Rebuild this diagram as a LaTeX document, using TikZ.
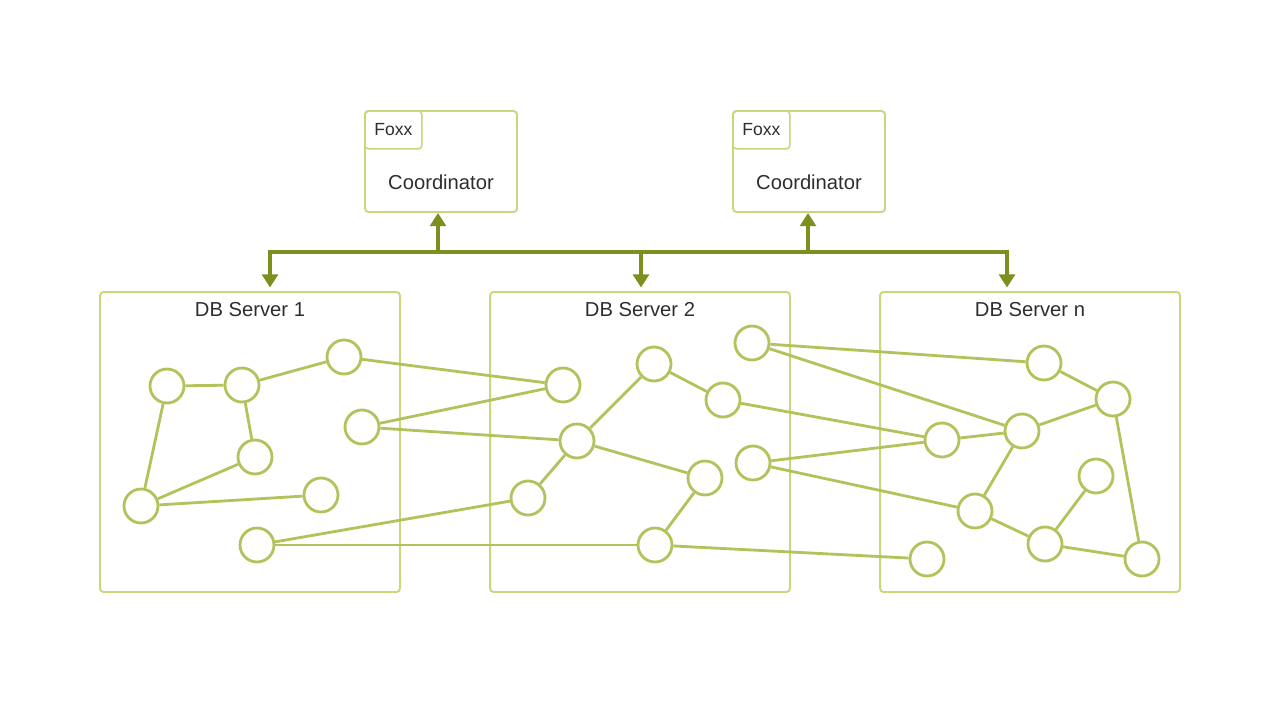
\documentclass[tikz,border=0pt]{standalone}
\usepackage{fontspec}
\setmainfont{Liberation Sans}
\usetikzlibrary{arrows.meta}
\definecolor{boxcol}{HTML}{C9D77A}
\definecolor{vtxcol}{HTML}{B5C25C}
\definecolor{buscol}{HTML}{7E8E1F}
\definecolor{txtcol}{HTML}{2E2E2E}
\begin{document}
\begin{tikzpicture}[x=0.02cm, y=-0.02cm]
      \tikzset{vertex/.style={draw=vtxcol, circle, line width=1.6pt, inner sep=0pt, minimum size=.68cm},
               server/.style={draw=boxcol, rounded corners=2pt, line width=1.1pt, inner sep=0pt, minimum width=6cm, minimum height=6cm},
               coordbox/.style={draw=boxcol, rounded corners=2pt, line width=1.1pt, inner sep=0pt, minimum width=3.04cm, minimum height=2.02cm},
               tab/.style={draw=boxcol, rounded corners=2pt, line width=.9pt, inner sep=0pt, minimum width=1.14cm, minimum height=.76cm, anchor=north west, text=txtcol, font=\fontsize{10}{12}\selectfont},
               title/.style={text=txtcol, font=\fontsize{11.5}{13}\selectfont},
               bus/.style={draw=buscol, line width=2pt},
               link/.style={draw=vtxcol, line width=1.6pt}}
      \fill[white] (0,0) rectangle (1280,720);
      \useasboundingbox (0,0) rectangle (1280,720);
%% Coordinators
      	\node[coordbox] (c1) at (441,161.5) {};
      	\node[tab] (f1) at (c1.north west) {Foxx};
      	\node[title] (l1) at (441,182) {Coordinator};
      	\node[coordbox] (c2) at (809,161.5) {};
      	\node[tab] (f2) at (c2.north west) {Foxx};
      	\node[title] (l2) at (809,182) {Coordinator};
%% Servers
      	\node[server] (s1) at (250,442) {};
      	\node[title] (t1) at (250,310) {DB Server 1};
      	\node[server] (s2) at (640,442) {};
      	\node[title] (t2) at (640,310) {DB Server 2};
      	\node[server] (s3) at (1030,442) {};
      	\node[title] (t3) at (1030,310) {DB Server n};
%Bus
      	\coordinate (d1) at (270,252);
      	\coordinate (d2) at (641,252);
      	\coordinate (d3) at (1007,252);
      	\coordinate (u1) at (438,252);
      	\coordinate (u2) at (808,252);
		\draw[bus, line cap=rect] (d1) -- (d3);
		\draw[bus, -{Triangle[length=7.5pt, width=9pt]}] (u1) -- (u1 |- c1.south);
		\draw[bus, -{Triangle[length=7.5pt, width=9pt]}] (u2) -- (u2 |- c2.south);
		\draw[bus, -{Triangle[length=7.5pt, width=9pt]}, shorten >=2pt] (d1) -- (d1 |- s1.north);
		\draw[bus, -{Triangle[length=7.5pt, width=9pt]}, shorten >=2pt] (d2) -- (d2 |- s2.north);
		\draw[bus, -{Triangle[length=7.5pt, width=9pt]}, shorten >=2pt] (d3) -- (d3 |- s3.north);
%% Vertices
      	\node[vertex] (a) at (167,386) {};
      	\node[vertex] (b) at (242,385) {};
      	\node[vertex] (c) at (344,357) {};
      	\node[vertex] (d) at (362,427) {};
      	\node[vertex] (e) at (255,457) {};
      	\node[vertex] (f) at (141,506) {};
      	\node[vertex] (g) at (321,495) {};
      	\node[vertex] (h) at (257,545) {};
      	\node[vertex] (i) at (563,385) {};
      	\node[vertex] (j) at (654,364) {};
      	\node[vertex] (k) at (723,400) {};
      	\node[vertex] (l) at (577,441) {};
      	\node[vertex] (m) at (705,478) {};
      	\node[vertex] (n) at (528,498) {};
      	\node[vertex] (o) at (655,545) {};
      	\node[vertex] (p) at (752,343) {};
      	\node[vertex] (q) at (753,463) {};
      	\node[vertex] (r) at (1044,363) {};
      	\node[vertex] (s) at (1113,399) {};
      	\node[vertex] (t) at (1022,431) {};
      	\node[vertex] (u) at (942,440) {};
      	\node[vertex] (v) at (1096,476) {};
      	\node[vertex] (w) at (975,511) {};
      	\node[vertex] (x) at (1045,544) {};
      	\node[vertex] (y) at (1142,559) {};
      	\node[vertex] (z) at (927,559) {};
%Edges
		\path[link] (a) edge (b) (b) edge (c) (b) edge (e) (a) edge (f) (f) edge (e) (f) edge (g);
		\path[link] (c) edge (i) (d) edge (i) (d) edge (l) (h) edge (n) (h) edge (o);
		\path[link] (j) edge (l) (j) edge (k) (l) edge (n) (l) edge (m) (m) edge (o);
		\path[link] (k) edge (u) (o) edge (z) (p) edge (r) (p) edge (t) (q) edge (u) (q) edge (w);
		\path[link] (r) edge (s) (s) edge (t) (t) edge (u) (t) edge (w) (w) edge (x) (x) edge (v) (x) edge (y) (s) edge (y);
	\end{tikzpicture}
\end{document}
